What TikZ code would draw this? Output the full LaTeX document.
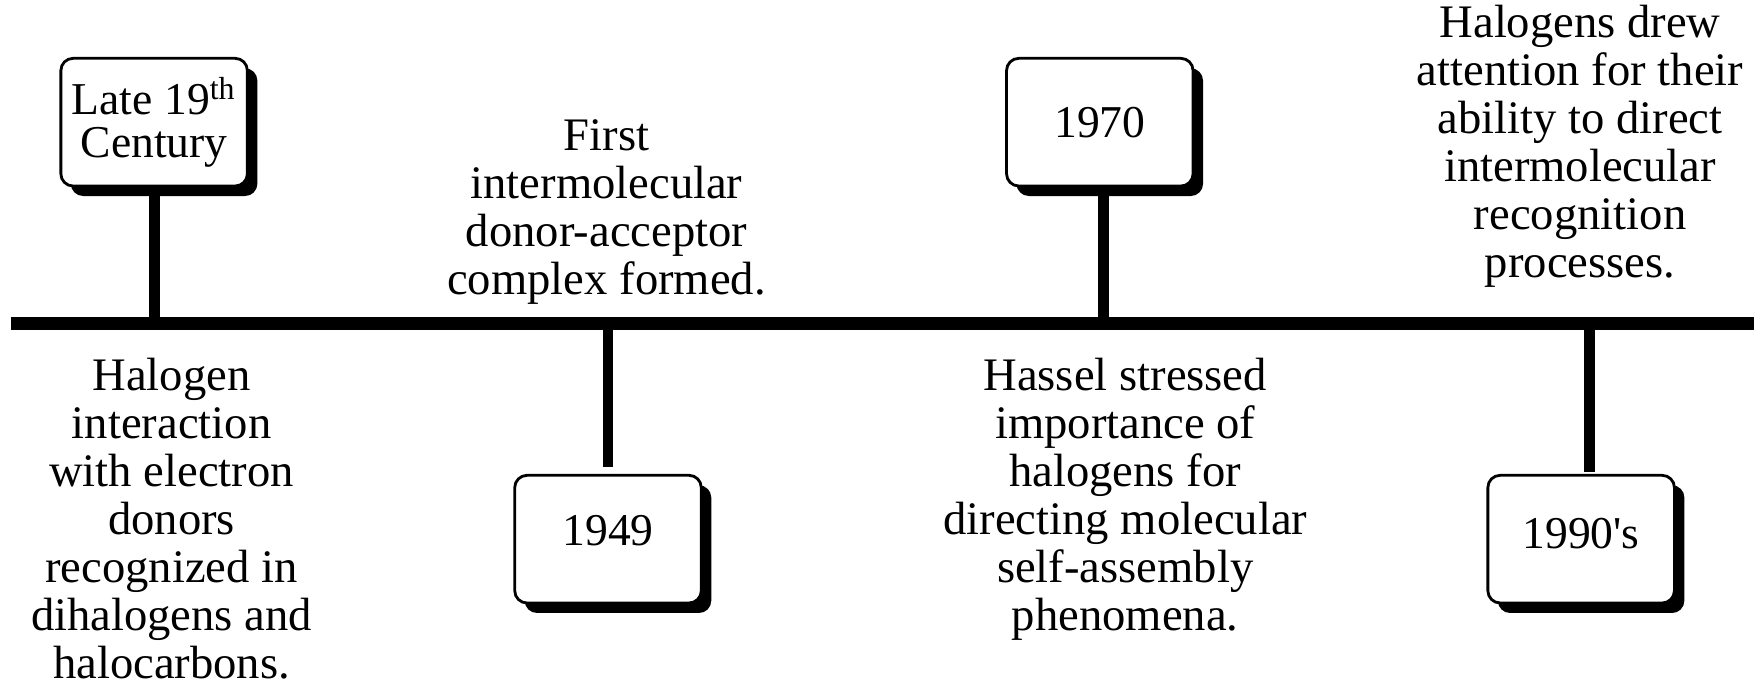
\documentclass[tikz,border=0pt]{standalone}
\usepackage{fontspec}
\setmainfont{Liberation Serif}
\usetikzlibrary{shadows, calc}

\begin{document}
\begin{tikzpicture}[
  % Jahres-Box mit hartem Schatten
  yearbox/.style={
    draw=black,
    line width=0.8pt,
    fill=white,
    rounded corners=3.5pt,
    minimum width=1.87cm,
    minimum height=1.28cm,
    inner sep=0pt,
    align=center,
    font=\fontsize{13}{12.3}\selectfont,
    drop shadow={shadow xshift=0.1cm, shadow yshift=-0.1cm, opacity=1, fill=black}
  },
  % Beschreibungstext (Anker = Grundlinie der letzten Zeile)
  eventtext/.style={
    align=center,
    anchor=base,
    inner sep=0pt,
    font=\fontsize{13.3}{13.7}\selectfont
  },
  % Zeitachse
  axisline/.style={line width=3.6pt},
  % Verbindung Box - Achse
  stemline/.style={line width=3.1pt}
]

% =============================================================================
% HINTERGRUND
% =============================================================================
\fill[white] (0,0) rectangle (17.6,6.85);

% =============================================================================
% ZEITACHSE
% =============================================================================
\coordinate (axisL) at (0.11,3.61);
\coordinate (axisR) at (17.58,3.61);
\draw[axisline] (axisL) -- (axisR);

% =============================================================================
% JAHRES-BOXEN
% =============================================================================
% Late 19th Century (oben)
\node[yearbox] (late) at (1.545,5.625) {Late 19\textsuperscript{th}\\Century};
\draw[stemline] (late.south) -- (late.south |- axisL);

% 1949 (unten)
\node[yearbox, text depth=5.1pt] (y1949) at (6.095,1.445) {1949};
\draw[stemline] (y1949.north |- axisL) -- ([yshift=0.07cm]y1949.north);

% 1970 (oben)
\node[yearbox] (y1970) at (11.025,5.625) {1970};
\draw[stemline] ([xshift=0.035cm]y1970.south) -- ([xshift=0.035cm]y1970.south |- axisL);

% 1990's (unten)
\node[yearbox, text depth=3.1pt] (y1990) at (15.85,1.445) {1990\textquotesingle s};
\draw[stemline] ([xshift=0.08cm]y1990.north |- axisL) -- ([xshift=0.08cm, yshift=0.02cm]y1990.north);

% =============================================================================
% EREIGNISSE
% =============================================================================
\node[eventtext] (txt1) at (1.72,0.05) {Halogen\\interaction\\with electron\\donors\\recognized in\\dihalogens and\\halocarbons.};
\node[eventtext] (txt2) at (6.08,3.90) {First\\intermolecular\\donor-acceptor\\complex formed.};
\node[eventtext] (txt3) at (11.28,0.53) {Hassel stressed\\importance of\\halogens for\\directing molecular\\self-assembly\\phenomena.};
\node[eventtext] (txt4) at (15.84,4.07) {Halogens drew\\attention for their\\ability to direct\\intermolecular\\recognition\\processes.};

\end{tikzpicture}
\end{document}
